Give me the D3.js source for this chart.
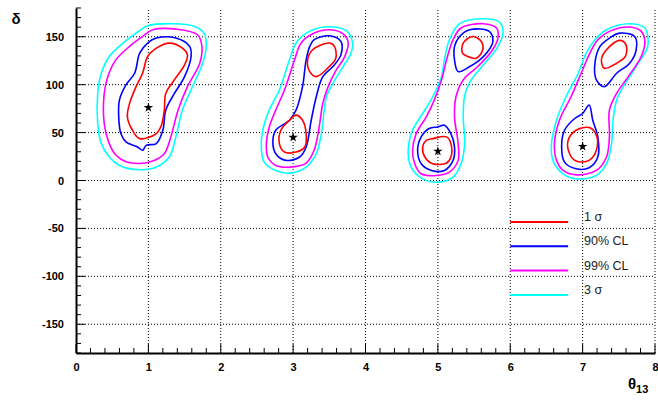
<!DOCTYPE html>
<html>
<head>
<meta charset="utf-8">
<script src="https://cdn.jsdelivr.net/npm/d3@7"></script>
<style>
  body { margin: 0; background: #fff; }
  text { font-family: 'Liberation Sans', Arial, sans-serif; }
</style>
</head>
<body>
<div id="root"></div>
<script>
// contour levels, each a list of closed polygons [theta13, delta]
var levelNames = ['1 \u03c3', '90% CL', '99% CL', '3 \u03c3'];
var levelColors = ['#ff0000', '#0000ff', '#ff00ff', '#00ffff'];

var sigma1 = [
  [[1.29,143.4],[1.47,138.1],[1.54,131.1],[1.50,120.6],[1.34,103.1],[1.24,90.9],[1.22,73.4],[1.18,57.7],[1.11,49.0],[0.88,43.7],[0.78,52.4],[0.71,66.4],[0.74,80.4],[0.83,97.9],[0.92,111.9],[0.99,129.4],[1.11,138.1]],
  [[3.27,136.4],[3.50,143.4],[3.57,139.9],[3.59,127.6],[3.50,118.9],[3.32,108.4],[3.23,113.6],[3.20,125.9]],
  [[3.04,68.2],[3.13,62.9],[3.18,48.9],[3.16,35.0],[3.04,29.7],[2.88,29.7],[2.81,38.5],[2.83,52.4],[2.95,62.9]],
  [[5.48,150.3],[5.60,145.1],[5.62,136.4],[5.53,127.6],[5.41,129.4],[5.34,132.9],[5.35,143.4]],
  [[4.93,43.7],[5.12,45.5],[5.18,38.5],[5.18,24.5],[5.12,18.2],[4.93,17.5],[4.82,24.5],[4.79,34.9],[4.84,41.9]],
  [[7.51,146.2],[7.60,141.6],[7.59,129.4],[7.47,122.4],[7.30,117.1],[7.26,125.9],[7.33,136.4]],
  [[6.91,52.4],[7.09,55.2],[7.19,47.2],[7.19,31.5],[7.09,21.0],[6.91,20.3],[6.82,27.9],[6.80,41.9]]
];
var cl90 = [
  [[1.11,148.6],[1.38,148.6],[1.57,139.9],[1.59,129.4],[1.50,108.4],[1.36,90.9],[1.24,73.4],[1.20,52.4],[1.11,38.5],[0.97,36.7],[0.92,31.5],[0.85,35.0],[0.69,40.2],[0.62,49.0],[0.59,66.4],[0.60,83.9],[0.69,99.7],[0.81,111.9],[0.88,132.9],[0.99,143.4]],
  [[3.29,146.9],[3.50,151.0],[3.66,145.1],[3.66,131.1],[3.55,118.9],[3.41,108.4],[3.32,87.4],[3.25,62.9],[3.18,35.0],[3.09,24.5],[2.90,21.0],[2.76,28.0],[2.72,40.2],[2.76,52.4],[2.95,62.9],[3.04,73.4],[3.13,97.9],[3.18,125.9],[3.23,139.9]],
  [[5.44,157.3],[5.71,155.6],[5.76,145.1],[5.69,134.6],[5.58,125.9],[5.44,118.9],[5.28,113.6],[5.23,125.9],[5.23,139.9],[5.30,150.3]],
  [[5.09,57.7],[5.18,48.9],[5.23,34.9],[5.21,21.0],[5.09,10.5],[4.91,10.5],[4.77,17.5],[4.72,31.5],[4.77,45.5],[4.88,54.2],[5.00,55.9]],
  [[7.51,153.8],[7.72,150.3],[7.74,136.4],[7.65,122.4],[7.47,111.9],[7.30,97.9],[7.19,104.9],[7.17,122.4],[7.24,139.9],[7.37,148.6]],
  [[7.09,78.7],[7.14,62.9],[7.21,45.5],[7.21,24.5],[7.09,13.3],[6.91,12.2],[6.75,19.2],[6.71,34.9],[6.75,52.4],[6.89,64.7],[7.00,69.9]]
];
var cl99 = [
  [[1.06,157.3],[1.38,158.0],[1.68,152.1],[1.74,139.9],[1.71,122.4],[1.54,97.9],[1.41,73.4],[1.31,45.5],[1.22,28.0],[1.06,20.3],[0.88,17.8],[0.69,19.6],[0.55,26.6],[0.46,38.5],[0.39,59.4],[0.39,90.9],[0.44,108.4],[0.55,125.9],[0.74,139.9],[0.92,150.3]],
  [[3.27,153.1],[3.50,157.3],[3.69,153.1],[3.76,144.4],[3.71,128.7],[3.59,114.7],[3.48,97.2],[3.41,80.4],[3.36,55.9],[3.29,31.5],[3.18,18.2],[2.95,14.0],[2.76,15.7],[2.65,24.5],[2.63,38.5],[2.67,55.9],[2.76,73.4],[2.88,94.4],[3.02,125.9],[3.11,143.4]],
  [[5.32,159.1],[5.62,163.6],[5.81,159.1],[5.83,148.6],[5.74,134.6],[5.55,118.9],[5.35,104.9],[5.25,87.4],[5.23,66.4],[5.28,38.5],[5.28,21.0],[5.16,8.7],[4.98,5.2],[4.77,7.0],[4.68,17.5],[4.65,31.5],[4.70,48.9],[4.84,66.4],[4.95,83.9],[5.05,104.9],[5.12,125.9],[5.21,146.9]],
  [[7.37,155.6],[7.65,160.1],[7.81,155.6],[7.86,145.1],[7.81,129.4],[7.63,108.4],[7.47,90.9],[7.37,73.4],[7.37,45.5],[7.33,24.5],[7.19,10.5],[6.91,5.9],[6.73,10.5],[6.64,21.0],[6.61,38.5],[6.68,62.9],[6.84,87.4],[6.98,111.9],[7.10,132.9],[7.21,146.9]]
];
var sigma3 = [
  [[0.99,161.5],[1.34,163.6],[1.64,160.8],[1.77,153.8],[1.80,139.9],[1.75,122.4],[1.61,97.9],[1.47,73.4],[1.38,45.5],[1.29,24.5],[1.11,14.0],[0.88,11.2],[0.60,15.7],[0.46,24.5],[0.35,38.5],[0.30,59.4],[0.30,90.9],[0.35,111.9],[0.46,129.4],[0.65,143.4],[0.83,153.8]],
  [[3.23,155.9],[3.50,160.5],[3.73,156.6],[3.82,144.4],[3.80,132.9],[3.69,118.9],[3.55,101.4],[3.46,87.4],[3.43,73.4],[3.39,49.0],[3.32,28.0],[3.18,14.0],[2.95,7.7],[2.76,10.5],[2.60,19.2],[2.56,35.0],[2.58,52.4],[2.67,73.4],[2.81,94.4],[2.95,125.9],[3.04,143.4]],
  [[5.30,163.6],[5.62,168.8],[5.85,165.4],[5.90,153.1],[5.81,137.4],[5.62,119.9],[5.44,102.4],[5.37,88.5],[5.35,66.4],[5.37,38.5],[5.32,17.5],[5.21,3.5],[5.02,-1.7],[4.79,1.7],[4.63,14.0],[4.59,31.5],[4.65,52.4],[4.79,69.9],[4.93,87.4],[5.05,108.4],[5.09,125.9],[5.16,146.9]],
  [[7.33,157.3],[7.65,163.6],[7.86,159.1],[7.90,150.3],[7.90,139.9],[7.74,118.9],[7.56,97.9],[7.47,83.9],[7.42,62.9],[7.40,38.5],[7.33,17.5],[7.19,5.2],[6.91,1.7],[6.73,7.0],[6.59,21.0],[6.57,38.5],[6.64,62.9],[6.77,87.4],[6.94,111.9],[7.05,132.9],[7.17,146.9]]
];
var bestFit = [[1, 76], [3, 45], [5, 30.5], [7, 35.5]];
var xTicks = [0, 1, 2, 3, 4, 5, 6, 7, 8];
var yTicks = [-150, -100, -50, 0, 50, 100, 150];

var W = 658, H = 400;
var m = {left: 76, right: 3, top: 8, bottom: 47};

var svg = d3.select('#root').append('svg').attr('width', W).attr('height', H);

var x = d3.scaleLinear().domain([0, 8]).range([m.left, W - m.right]);
var y = d3.scaleLinear().domain([-180, 180]).range([H - m.bottom, m.top]);

// dotted grid
var grid = svg.append('g').attr('stroke', '#000').attr('stroke-width', 1)
    .attr('stroke-dasharray', '1,2');
grid.selectAll('line.gx').data(xTicks.slice(1)).enter().append('line')
    .attr('x1', d => x(d)).attr('x2', d => x(d))
    .attr('y1', y(-180)).attr('y2', y(180));
grid.selectAll('line.gy').data(yTicks).enter().append('line')
    .attr('x1', x(0)).attr('x2', x(8))
    .attr('y1', d => y(d)).attr('y2', d => y(d));

// contours
var line = d3.line().x(d => x(d[0])).y(d => y(d[1])).curve(d3.curveCatmullRomClosed.alpha(0.5));
var levels = [sigma3, cl99, cl90, sigma1];
var colors = [levelColors[3], levelColors[2], levelColors[1], levelColors[0]];
levels.forEach(function (polys, i) {
    svg.append('g').selectAll('path').data(polys).enter().append('path')
        .attr('d', line).attr('fill', 'none')
        .attr('stroke', colors[i]).attr('stroke-width', 1.6);
});

// best fit stars
var star = d3.symbol().type(d3.symbolStar).size(28);
svg.selectAll('path.star').data(bestFit).enter().append('path')
    .attr('d', star).attr('fill', '#000')
    .attr('transform', d => 'translate(' + x(d[0]) + ',' + y(d[1]) + ')');

// axes
var xAxis = d3.axisBottom(x).tickValues(xTicks).tickSize(0).tickPadding(10).tickFormat(d => String(d));
var gx = svg.append('g').attr('transform', 'translate(0,' + y(-180) + ')').call(xAxis);
gx.select('.domain').attr('stroke-width', 2);
gx.selectAll('text').attr('font-size', 11).attr('font-weight', 'bold');

var yAxis = d3.axisLeft(y).tickValues(yTicks).tickSize(0).tickPadding(12).tickFormat(d => String(d));
var gy = svg.append('g').attr('transform', 'translate(' + x(0) + ',0)').call(yAxis);
gy.select('.domain').attr('stroke-width', 2);
gy.selectAll('text').attr('font-size', 11).attr('font-weight', 'bold');

// inward ticks
var xMinor = d3.range(0, 8.001, 0.2);
svg.append('g').selectAll('line').data(xMinor).enter().append('line')
    .attr('x1', d => x(d)).attr('x2', d => x(d))
    .attr('y1', y(-180)).attr('y2', d => y(-180) - (Math.abs(d - Math.round(d)) < 1e-6 ? 9 : 5))
    .attr('stroke', '#000');
var yMinor = d3.range(-180, 180.001, 10);
svg.append('g').selectAll('line').data(yMinor).enter().append('line')
    .attr('y1', d => y(d)).attr('y2', d => y(d))
    .attr('x1', x(0)).attr('x2', d => x(0) + (d % 50 === 0 ? 9 : 5))
    .attr('stroke', '#000');

// axis titles
svg.append('text').attr('x', 16).attr('y', 24).attr('text-anchor', 'middle')
    .attr('font-size', 15).attr('font-weight', 'bold').text('\u03b4');
var xt = svg.append('text').attr('x', 628).attr('y', 389)
    .attr('font-size', 15).attr('font-weight', 'bold').text('\u03b8');
xt.append('tspan').attr('font-size', 11).attr('dy', 4).text('13');

// legend
var legend = svg.append('g');
levelNames.forEach(function (name, i) {
    var ly = 222 + i * 24.3;
    legend.append('line').attr('x1', x(6)).attr('x2', x(6.8))
        .attr('y1', ly).attr('y2', ly)
        .attr('stroke', levelColors[i]).attr('stroke-width', 2);
    legend.append('text').attr('x', 584).attr('y', ly - 1)
        .attr('font-size', 12.5).attr('fill', '#222').text(name);
});
</script>
</body>
</html>
